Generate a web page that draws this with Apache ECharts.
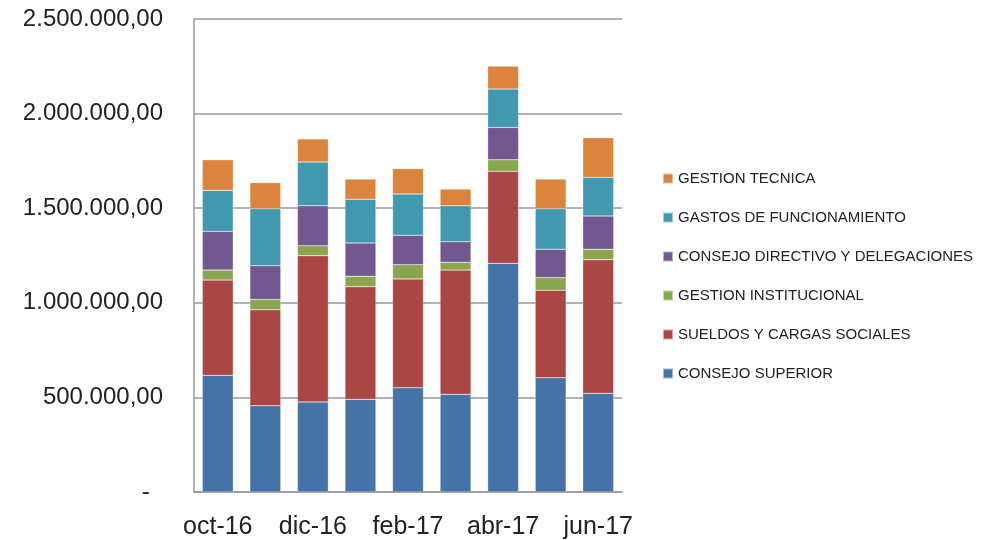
<!DOCTYPE html>
<html>
<head>
<meta charset="utf-8">
<script src="https://cdn.jsdelivr.net/npm/echarts@6/dist/echarts.min.js"></script>
<style>
html,body{margin:0;padding:0;background:#fff;}
#chart{width:990px;height:540px;}
</style>
</head>
<body>
<div id="chart"></div>
<script>
var categories = ["oct-16","nov-16","dic-16","ene-17","feb-17","mar-17","abr-17","may-17","jun-17"];
var seriesNames = ["CONSEJO SUPERIOR","SUELDOS Y CARGAS SOCIALES","GESTION INSTITUCIONAL","CONSEJO DIRECTIVO Y DELEGACIONES","GASTOS DE FUNCIONAMIENTO","GESTION TECNICA"];
var consejoSuperior   = [617000, 456000, 476000, 490000, 551000, 516000, 1209000, 604000, 522000];
var sueldosCargas     = [503000, 507000, 773000, 595000, 575000, 657000, 486000, 462000, 706000];
var gestionInstit     = [53000, 55000, 53000, 55000, 75000, 41000, 61000, 67000, 55000];
var consejoDirectivo  = [205000, 178000, 211000, 176000, 156000, 109000, 171000, 150000, 176000];
var gastosFuncion     = [216000, 301000, 231000, 231000, 218000, 190000, 203000, 214000, 204000];
var gestionTecnica    = [162000, 138000, 122000, 107000, 134000, 88000, 121000, 157000, 210000];
var yTicks = [0, 500000, 1000000, 1500000, 2000000, 2500000];

var seriesData = [consejoSuperior, sueldosCargas, gestionInstit, consejoDirectivo, gastosFuncion, gestionTecnica];
var colors = ["#4572A7","#AA4643","#89A54E","#71588F","#4198AF","#DB843D"];

function fmt(v){
  if (v === 0) return "-  ";
  var s = Math.round(v).toString();
  var out = "";
  while (s.length > 3){ out = "." + s.slice(-3) + out; s = s.slice(0, -3); }
  return s + out + ",00";
}

var chart = echarts.init(document.getElementById('chart'), null, {renderer:'canvas'});
var series = seriesNames.map(function(name, i){
  return {
    name: name,
    type: 'bar',
    stack: 'total',
    barCategoryGap: '35%',
    data: seriesData[i],
    itemStyle: { color: colors[i], borderColor: 'rgba(255,255,255,0.5)', borderWidth: 0.5 }
  };
});

chart.setOption({
  animation: false,
  color: colors,
  textStyle: { fontFamily: 'Liberation Sans' },
  grid: { left: 194, right: 368, top: 19, bottom: 48, containLabel: false },
  legend: {
    orient: 'vertical',
    left: 657,
    top: 166,
    itemWidth: 10,
    itemHeight: 10,
    itemGap: 24,
    icon: 'rect',
    data: seriesNames.slice().reverse(),
    textStyle: { fontFamily: 'Liberation Sans', fontSize: 15, color: '#222' }
  },
  xAxis: {
    type: 'category',
    data: categories,
    axisLine: { lineStyle: { color: '#999', width: 1.5 } },
    axisTick: { show: false },
    axisLabel: { interval: 1, fontSize: 25, color: '#222', margin: 23, fontFamily: 'Liberation Sans' }
  },
  yAxis: {
    type: 'value',
    min: yTicks[0],
    max: yTicks[yTicks.length - 1],
    interval: yTicks[1] - yTicks[0],
    axisLine: { show: true, lineStyle: { color: '#999', width: 1.5 } },
    axisTick: { show: false },
    splitLine: { lineStyle: { color: '#999', width: 1.5 } },
    axisLabel: { fontSize: 24, color: '#222', margin: 31, fontFamily: 'Liberation Sans', formatter: fmt }
  },
  series: series
});
</script>
</body>
</html>
